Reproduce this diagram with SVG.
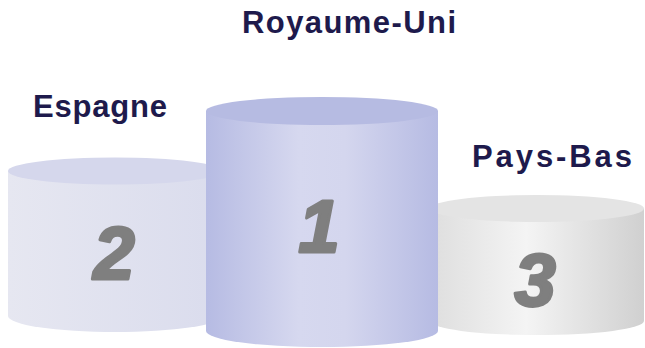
<svg xmlns="http://www.w3.org/2000/svg" width="645" height="348" viewBox="0 0 645 348">
  <style>
    .label { font-family: "Liberation Sans", Arial, sans-serif; font-weight: bold; font-size: 31px; fill: #1e1a4c; }
    .digit { font-family: "Liberation Sans", Arial, sans-serif; font-weight: bold; font-style: italic; font-size: 74px; fill: #7f7f7f; stroke: #7f7f7f; stroke-width: 3; stroke-linejoin: round; text-anchor: middle; }
  </style>
  <defs>
    <linearGradient id="g2" x1="0" y1="0" x2="1" y2="0">
      <stop offset="0" stop-color="#e6e7f1"/>
      <stop offset="1" stop-color="#dadced"/>
    </linearGradient>
    <linearGradient id="g1" x1="0" y1="0" x2="1" y2="0">
      <stop offset="0" stop-color="#b6bbe3"/>
      <stop offset="0.4" stop-color="#d6d8ef"/>
      <stop offset="0.6" stop-color="#d4d6ee"/>
      <stop offset="1" stop-color="#b6bbe3"/>
    </linearGradient>
    <linearGradient id="g3" x1="0" y1="0" x2="1" y2="0">
      <stop offset="0" stop-color="#dedede"/>
      <stop offset="0.45" stop-color="#f4f4f4"/>
      <stop offset="1" stop-color="#d0d0d0"/>
    </linearGradient>
  </defs>

  <g id="node-espagne">
    <path d="M8,171 L8,316 A107,16 0 0 0 222,316 L222,171 Z" fill="url(#g2)"/>
    <ellipse cx="115" cy="171" rx="107" ry="13.5" fill="#d5d7ec"/>
    <text class="digit" x="114" y="279">2</text>
    <text class="label" x="33" y="117" textLength="134" lengthAdjust="spacing">Espagne</text>
  </g>

  <g id="node-paysbas">
    <path d="M430,208.5 L430,321 A107,14 0 0 0 644,321 L644,208.5 Z" fill="url(#g3)"/>
    <ellipse cx="537" cy="208.5" rx="107" ry="13.5" fill="#e4e4e4"/>
    <text class="digit" x="535" y="306">3</text>
    <text class="label" x="472" y="167" textLength="160" lengthAdjust="spacing">Pays-Bas</text>
  </g>

  <g id="node-royaumeuni">
    <path d="M206,111 L206,331 A116,16 0 0 0 438,331 L438,111 Z" fill="url(#g1)"/>
    <ellipse cx="322" cy="111" rx="116" ry="14" fill="#b6bbe2"/>
    <text class="digit" x="319" y="252">1</text>
    <text class="label" x="242" y="33" textLength="214" lengthAdjust="spacing">Royaume-Uni</text>
  </g>

  <g id="connectors"/>
</svg>
